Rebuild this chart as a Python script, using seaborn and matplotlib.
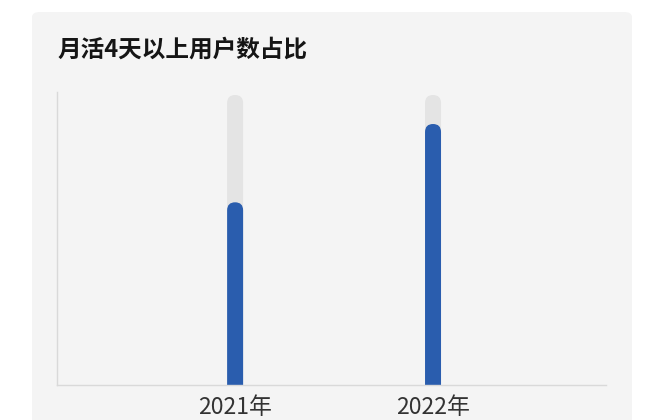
import matplotlib
matplotlib.use("Agg")
import matplotlib.pyplot as plt
from matplotlib.patches import FancyBboxPatch
import pandas as pd
import seaborn as sns

# data
years = ["2021年", "2022年"]
share = [0.63, 0.90]
track = [1.0, 1.0]

sns.set_theme(style="white")
plt.rcParams['font.family'] = ['Noto Sans CJK SC', 'DejaVu Sans']

W, H = 665, 420
fig = plt.figure(figsize=(W / 100, H / 100), dpi=100)
fig.patch.set_facecolor("white")

# card background
card = FancyBboxPatch((32 / W, -0.05), 600 / W, (H - 12) / H + 0.05,
                      boxstyle="round,pad=0,rounding_size=0.012",
                      transform=fig.transFigure, facecolor="#f4f4f4",
                      edgecolor="none", zorder=-5)
fig.patches.append(card)

fig.text(57 / W, 1 - 50 / H, "月活4天以上用户数占比", fontsize=17,
         fontweight="black", color="#151515", va="center", ha="left")

ax = fig.add_axes([57 / W, 35 / H, (606 - 57) / W, (385 - 95) / H])
ax.set_facecolor("none")

df = pd.DataFrame({"year": years, "share": share, "track": track})
bw = 16 / 198
sns.barplot(data=df, x="year", y="track", color="#e4e4e4", width=bw,
            saturation=1, ax=ax)
sns.barplot(data=df, x="year", y="share", color="#2a5dae", width=bw,
            saturation=1, ax=ax)

ax.set_xlim(-0.9, 1.874)
ax.set_ylim(0, 1.0)
fig.canvas.draw()

# round the bar tops
bbox = ax.get_window_extent()
xr = (ax.get_xlim()[1] - ax.get_xlim()[0]) / bbox.width
yr = (ax.get_ylim()[1] - ax.get_ylim()[0]) / bbox.height
aspect = yr / xr
for p in list(ax.patches):
    x, y, w, h = p.get_x(), p.get_y(), p.get_width(), p.get_height()
    r = w / 2
    ext = r * aspect
    rp = FancyBboxPatch((x, y - ext), w, h + ext,
                        boxstyle=f"round,pad=0,rounding_size={r}",
                        mutation_aspect=aspect, facecolor=p.get_facecolor(),
                        edgecolor="none", zorder=p.get_zorder())
    p.remove()
    ax.add_patch(rp)

sns.despine(ax=ax, top=True, right=True)
for s in ("left", "bottom"):
    ax.spines[s].set_color("#d9d9d9")
    ax.spines[s].set_linewidth(1)
ax.spines["left"].set_bounds(0, 1.01)
ax.set_yticks([])
ax.set_xlabel("")
ax.set_ylabel("")
ax.tick_params(axis="x", length=0, pad=8, labelsize=16.5, labelcolor="#333333")
for t in ax.get_xticklabels():
    t.set_fontweight("light")

fig.savefig("out.png", dpi=100)
